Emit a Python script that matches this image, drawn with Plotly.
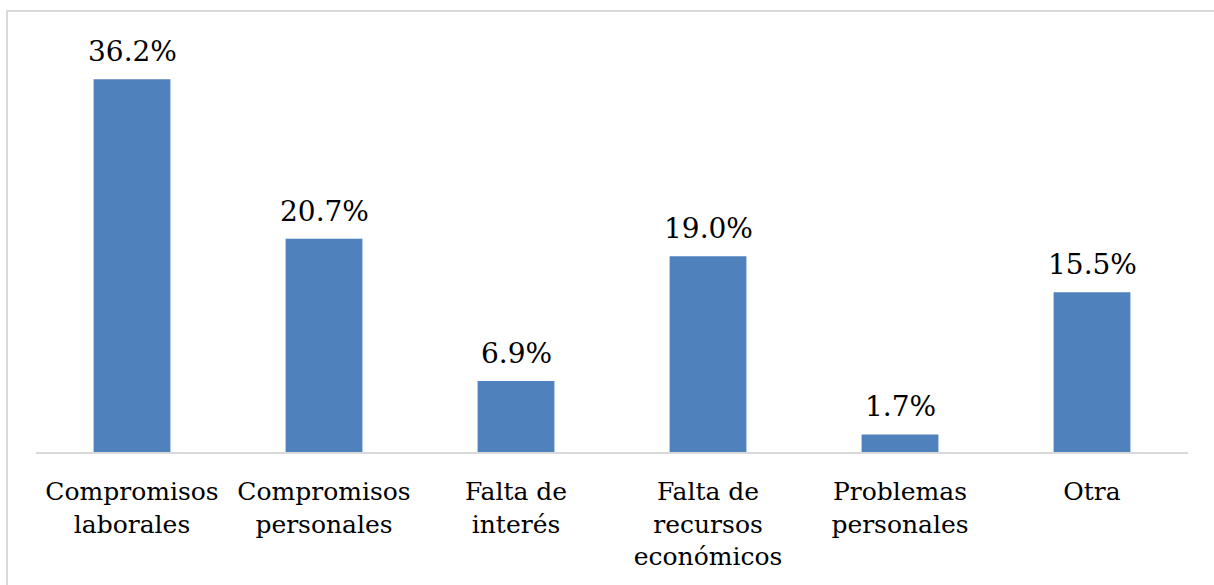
import plotly.graph_objects as go

categories = [
    "Compromisos<br>laborales",
    "Compromisos<br>personales",
    "Falta de<br>interés",
    "Falta de<br>recursos<br>económicos",
    "Problemas<br>personales",
    "Otra",
]
values = [36.2, 20.7, 6.9, 19.0, 1.7, 15.5]
value_labels = ["36.2%", "20.7%", "6.9%", "19.0%", "1.7%", "15.5%"]

FONT = "DejaVu Serif"
BAR_COLOR = "#4f81bd"

fig = go.Figure(
    go.Bar(
        x=categories,
        y=values,
        marker=dict(color=BAR_COLOR, line=dict(width=0)),
        width=0.4,
        hoverinfo="skip",
    )
)

# value labels sitting above each bar
for cat, val, lab in zip(categories, values, value_labels):
    fig.add_annotation(
        x=cat,
        y=val,
        text=lab,
        showarrow=False,
        yanchor="bottom",
        yshift=9,
        font=dict(family=FONT, size=28, color="#000000"),
    )

fig.update_layout(
    width=1214,
    height=585,
    margin=dict(l=36, r=26, t=40, b=133),
    paper_bgcolor="white",
    plot_bgcolor="white",
    showlegend=False,
    font=dict(family=FONT, size=25, color="#000000"),
    xaxis=dict(
        showline=True,
        linecolor="#d9d9d9",
        linewidth=2,
        ticks="outside",
        ticklen=16,
        tickcolor="rgba(0,0,0,0)",
        tickfont=dict(family=FONT, size=25, color="#000000"),
        showgrid=False,
        zeroline=False,
        fixedrange=True,
    ),
    yaxis=dict(
        range=[0, 40],
        visible=False,
        showgrid=False,
        zeroline=False,
        fixedrange=True,
    ),
    shapes=[
        # chart-area frame, running off the right and bottom edges
        dict(
            type="rect",
            xref="paper",
            yref="paper",
            x0=-0.0252,
            x1=1.1,
            y0=-0.5,
            y1=1.0704,
            line=dict(color="#d9d9d9", width=2),
            fillcolor="rgba(0,0,0,0)",
            layer="below",
        )
    ],
)

fig.write_html("out.html")
